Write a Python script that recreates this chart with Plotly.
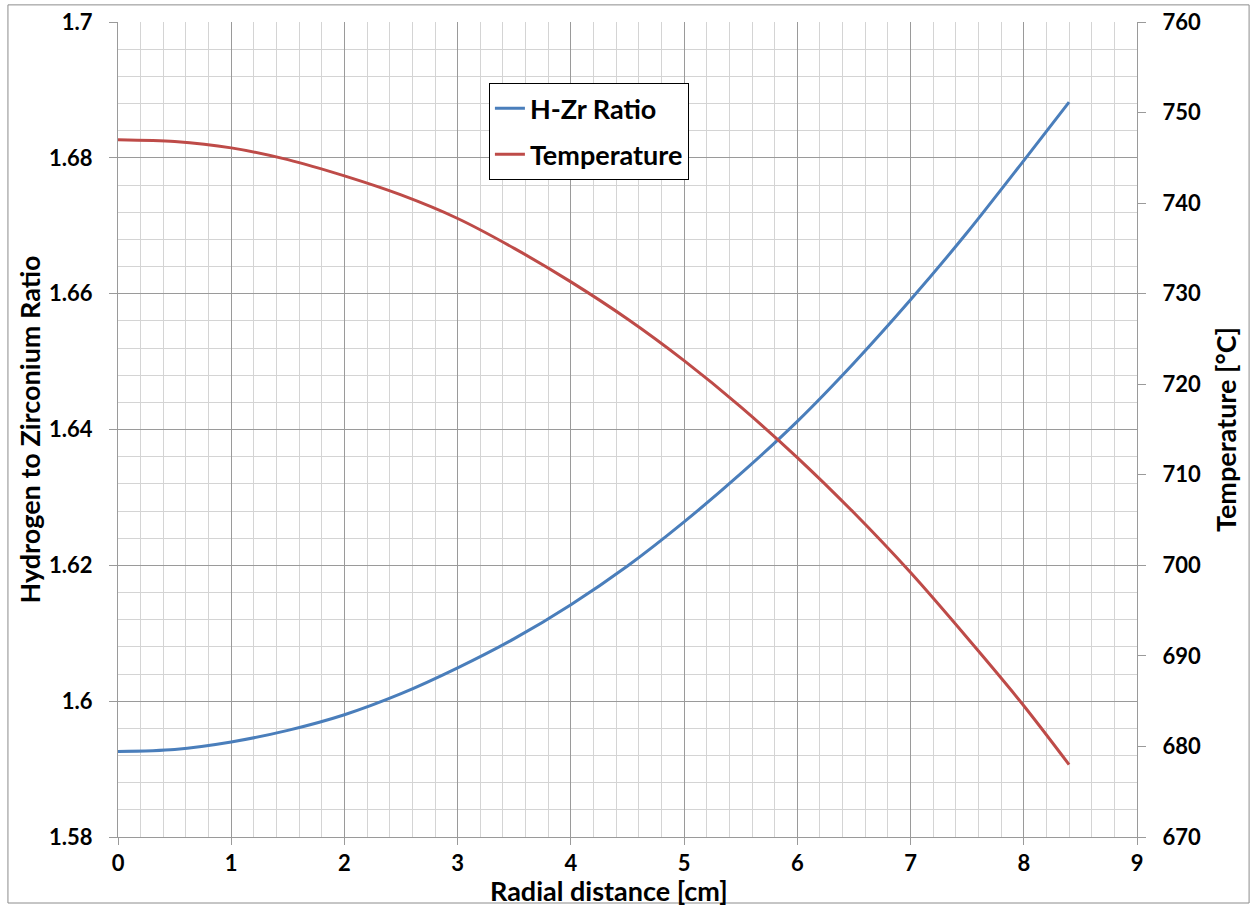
import plotly.graph_objects as go

# Radial profile of a fuel rod: hydrogen/zirconium ratio and temperature
radius_cm = [0, 0.5, 1, 1.5, 2, 2.5, 3, 3.5, 4, 4.5, 5, 5.5, 6, 6.5, 7, 7.5, 8, 8.4]
h_zr_ratio = [1.5926, 1.5929, 1.5940, 1.5957, 1.5980, 1.6011, 1.6049, 1.6092, 1.6142,
              1.6199, 1.6264, 1.6335, 1.6412, 1.6498, 1.6591, 1.6690, 1.6796, 1.6882]
temperature_c = [747.0, 746.8, 746.1, 744.8, 743.0, 740.9, 738.3, 735.0, 731.3,
                 727.2, 722.6, 717.5, 711.9, 705.8, 699.2, 692.0, 684.5, 678.0]

FONT = "Lato"
BLUE = "#4A7EBB"
RED = "#BE4B48"

fig = go.Figure()
fig.add_trace(go.Scatter(
    x=radius_cm, y=h_zr_ratio, name="<b>H-Zr Ratio</b>", mode="lines",
    line=dict(color=BLUE, width=3, shape="spline", smoothing=0.8),
    legendgroup="a", yaxis="y"))
fig.add_trace(go.Scatter(
    x=radius_cm, y=temperature_c, name="<b>Temperature</b>", mode="lines",
    line=dict(color=RED, width=3, shape="spline", smoothing=0.8),
    legendgroup="b", yaxis="y2"))

tick_font = dict(family=FONT, size=22, color="black", weight="bold")
title_font = dict(family=FONT, size=27, color="black", weight="bold")

fig.update_layout(
    width=1253, height=909,
    margin=dict(l=118, r=116, t=22, b=72, autoexpand=False),
    paper_bgcolor="white", plot_bgcolor="white",
    showlegend=True,
    legend=dict(
        x=0.364, y=0.925, xanchor="left", yanchor="top",
        bordercolor="black", borderwidth=1, bgcolor="white",
        font=dict(family=FONT, size=27, color="black"),
        traceorder="grouped", tracegroupgap=8,
    ),
    xaxis=dict(
        range=[0, 9], dtick=1, tick0=0, automargin=False,
        showgrid=True, gridcolor="#9a9a9a", gridwidth=1,
        minor=dict(dtick=0.2, showgrid=True, gridcolor="#d4d4d4", gridwidth=1),
        showline=True, linecolor="#9a9a9a", linewidth=1,
        ticks="outside", ticklen=7, tickcolor="#9a9a9a",
        tickfont=tick_font, zeroline=False,
    ),
    yaxis=dict(
        range=[1.58, 1.7], automargin=False,
        tickvals=[1.58, 1.6, 1.62, 1.64, 1.66, 1.68, 1.7],
        ticktext=["1.58", "1.6", "1.62", "1.64", "1.66", "1.68", "1.7"],
        showgrid=True, gridcolor="#9a9a9a", gridwidth=1,
        minor=dict(dtick=0.004, tick0=1.58, showgrid=True, gridcolor="#d4d4d4", gridwidth=1),
        showline=True, linecolor="#9a9a9a", linewidth=1,
        ticks="outside", ticklen=8, tickcolor="#9a9a9a",
        tickfont=tick_font, zeroline=False, ticklabelstandoff=12,
        title=dict(text="Hydrogen to Zirconium Ratio", font=title_font, standoff=0),
    ),
    yaxis2=dict(
        range=[670, 760], dtick=10, tick0=670, automargin=False,
        overlaying="y", side="right", showgrid=False,
        showline=True, linecolor="#9a9a9a", linewidth=1,
        ticks="outside", ticklen=8, tickcolor="#9a9a9a",
        tickfont=tick_font, zeroline=False, ticklabelstandoff=12,
        title=dict(text="Temperature [°C]", font=title_font, standoff=17),
    ),
    annotations=[dict(
        text="<b>Radial distance [cm]</b>", xref="paper", yref="paper",
        x=0.482, y=-0.066, xanchor="center", yanchor="middle", showarrow=False,
        font=dict(family=FONT, size=27, color="black"),
    )],
    shapes=[dict(
        type="rect", xref="paper", yref="paper",
        x0=-0.108, x1=1.11, y0=-0.081, y1=1.021,
        line=dict(color="#8c8c8c", width=1), fillcolor="rgba(0,0,0,0)", layer="below",
    )],
)

fig.write_html("out.html")
